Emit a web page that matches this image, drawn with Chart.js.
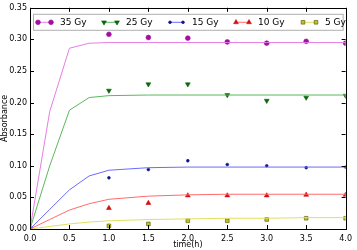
<!DOCTYPE html>
<html>
<head>
<meta charset="utf-8">
<script src="https://cdn.jsdelivr.net/npm/chart.js@4/dist/chart.umd.min.js"></script>
<style>
  html, body { margin: 0; padding: 0; background: #fff; }
  #wrap { width: 357px; height: 250px; }
</style>
</head>
<body>
<div id="wrap"><canvas id="chart" width="357" height="250"></canvas></div>
<script>
// fitted curve times and values
var fitTimes = [0, 0.25, 0.5, 0.75, 1.0, 1.5, 2.0, 2.5, 3.0, 3.5, 4.0];
var fit35 = [0, 0.186, 0.286, 0.294, 0.295, 0.295, 0.295, 0.295, 0.295, 0.295, 0.295];
var fit25 = [0, 0.100, 0.188, 0.208, 0.211, 0.212, 0.212, 0.212, 0.212, 0.212, 0.212];
var fit15 = [0, 0.031, 0.062, 0.084, 0.093, 0.097, 0.098, 0.098, 0.098, 0.098, 0.098];
var fit10 = [0, 0.015, 0.030, 0.040, 0.047, 0.052, 0.054, 0.055, 0.055, 0.055, 0.055];
var fit5  = [0, 0.004, 0.008, 0.011, 0.013, 0.015, 0.016, 0.017, 0.017, 0.018, 0.018];

// measured points
var measTimes = [0, 1.0, 1.5, 2.0, 2.5, 3.0, 3.5, 4.0];
var meas35 = [0, 0.308, 0.303, 0.302, 0.296, 0.294, 0.297, 0.294];
var meas25 = [0, 0.219, 0.229, 0.229, 0.212, 0.203, 0.208, 0.211];
var meas15 = [0, 0.081, 0.094, 0.108, 0.102, 0.100, 0.097, 0.098];
var meas10 = [0, 0.033, 0.041, 0.053, 0.053, 0.053, 0.054, 0.054];
var meas5  = [0, 0.005, 0.008, 0.013, 0.013, 0.015, 0.017, 0.017];

var seriesNames = ["35 Gy", "25 Gy", "15 Gy", "10 Gy", "5 Gy"];
var xTicks = [0, 0.5, 1.0, 1.5, 2.0, 2.5, 3.0, 3.5, 4.0];
var yTicks = [0, 0.05, 0.10, 0.15, 0.20, 0.25, 0.30, 0.35];

var fits = [fit35, fit25, fit15, fit10, fit5];
var meas = [meas35, meas25, meas15, meas10, meas5];
var lineColors = ["#e67de6", "#5cb85c", "#6b6bff", "#ff6b6b", "#e0e060"];
var markColors = ["#a010a0", "#0a640a", "#10108a", "#d01010", "#c0c020"];
var markEdges  = ["#a010a0", "#0a640a", "#10108a", "#d01010", "#505000"];
var markStyles = ["circle", "triangle", "circle", "triangle", "rect"];
var markRot    = [0, 180, 0, 0, 0];
var markSize   = [2.4, 2.8, 1.4, 2.8, 2.6];

function pts(xs, ys) {
  return xs.map(function (x, i) { return { x: x, y: ys[i] }; });
}

var datasets = [];
for (var i = 0; i < 5; i++) {
  datasets.push({
    label: seriesNames[i] + " fit",
    data: pts(fitTimes, fits[i]),
    showLine: true,
    borderColor: lineColors[i],
    borderWidth: 1,
    pointRadius: 0,
    tension: 0
  });
}
for (var i = 0; i < 5; i++) {
  datasets.push({
    label: seriesNames[i],
    data: pts(measTimes, meas[i]),
    showLine: false,
    pointStyle: markStyles[i],
    rotation: markRot[i],
    pointRadius: markSize[i],
    backgroundColor: markColors[i],
    borderColor: markEdges[i],
    borderWidth: 0.6
  });
}

var FONT = "DejaVu Sans";

// inward tick marks on all four sides, matplotlib style
var tickPlugin = {
  id: "inTicks",
  afterDraw: function (chart) {
    var ctx = chart.ctx, a = chart.chartArea;
    var xs = chart.scales.x, ys = chart.scales.y;
    ctx.save();
    ctx.strokeStyle = "#000";
    ctx.lineWidth = 1;
    ctx.beginPath();
    xTicks.forEach(function (v) {
      var px = Math.round(xs.getPixelForValue(v)) + 0.5;
      ctx.moveTo(px, a.bottom); ctx.lineTo(px, a.bottom - 4);
      ctx.moveTo(px, a.top); ctx.lineTo(px, a.top + 4);
    });
    yTicks.forEach(function (v) {
      var py = Math.round(ys.getPixelForValue(v)) + 0.5;
      ctx.moveTo(a.left, py); ctx.lineTo(a.left + 4, py);
      ctx.moveTo(a.right, py); ctx.lineTo(a.right - 4, py);
    });
    ctx.stroke();
    ctx.strokeRect(Math.round(a.left) + 0.5, Math.round(a.top) + 0.5,
      Math.round(a.right - a.left), Math.round(a.bottom - a.top));
    ctx.restore();
  }
};

// legend box inside the plot, line with two markers per entry
var legendPlugin = {
  id: "boxLegend",
  afterDraw: function (chart) {
    var ctx = chart.ctx, a = chart.chartArea;
    var x0 = a.left + 3, y0 = a.top + 6, w = a.right - a.left - 6, h = 16;
    ctx.save();
    ctx.fillStyle = "#fff";
    ctx.strokeStyle = "#b0b0b0";
    ctx.lineWidth = 1;
    ctx.fillRect(x0, y0, w, h);
    ctx.strokeRect(x0 + 0.5, y0 + 0.5, w, h);
    ctx.font = "9px '" + FONT + "'";
    ctx.textBaseline = "middle";
    var starts = [38, 104, 170, 236, 303];
    var cy = y0 + h / 2 + 0.5;
    for (var i = 0; i < 5; i++) {
      var sx = starts[i];
      ctx.lineWidth = 1;
      ctx.strokeStyle = lineColors[i];
      ctx.beginPath(); ctx.moveTo(sx, cy); ctx.lineTo(sx + 13, cy); ctx.stroke();
      ctx.fillStyle = markColors[i];
      ctx.strokeStyle = markEdges[i];
      ctx.lineWidth = 0.6;
      var opts = { pointStyle: markStyles[i], rotation: markRot[i], radius: markSize[i], borderWidth: 0.6 };
      Chart.helpers.drawPoint(ctx, opts, sx, cy);
      Chart.helpers.drawPoint(ctx, opts, sx + 13, cy);
      ctx.fillStyle = "#000";
      ctx.fillText(seriesNames[i], sx + 22, cy);
    }
    ctx.restore();
  }
};

new Chart(document.getElementById("chart"), {
  type: "scatter",
  data: { datasets: datasets },
  options: {
    responsive: false,
    animation: false,
    devicePixelRatio: 1,
    layout: { padding: { top: 2, right: 5, left: 0, bottom: 0 } },
    plugins: { legend: { display: false }, tooltip: { enabled: false } },
    scales: {
      x: {
        type: "linear", min: 0, max: 4,
        afterBuildTicks: function (s) { s.ticks = xTicks.map(function (v) { return { value: v }; }); },
        afterFit: function (s) { s.height = 21; },
        grid: { display: false, drawTicks: false },
        border: { display: false },
        ticks: { color: "#000", padding: 5, font: { family: FONT, size: 8 }, maxRotation: 0,
          callback: function (v) { return v.toFixed(1); } },
        title: { display: true, text: "time(h)", color: "#000", padding: 0, font: { family: FONT, size: 8 } }
      },
      y: {
        type: "linear", min: 0, max: 0.35,
        afterBuildTicks: function (s) { s.ticks = yTicks.map(function (v) { return { value: v }; }); },
        afterFit: function (s) { s.width = 30; },
        grid: { display: false, drawTicks: false },
        border: { display: false },
        ticks: { color: "#000", padding: 3, font: { family: FONT, size: 8 },
          callback: function (v) { return v.toFixed(2); } },
        title: { display: true, text: "Absorbance", color: "#000", padding: 0, font: { family: FONT, size: 8 } }
      }
    }
  },
  plugins: [tickPlugin, legendPlugin]
});
</script>
</body>
</html>
